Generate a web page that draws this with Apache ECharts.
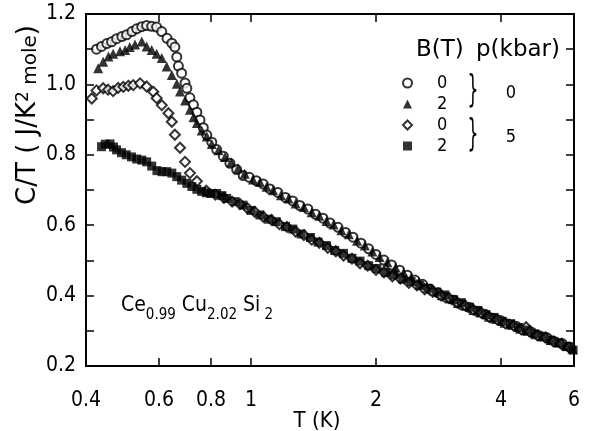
<!DOCTYPE html>
<html><head><meta charset="utf-8">
<script src="https://cdn.jsdelivr.net/npm/echarts@6/dist/echarts.min.js"></script>
<style>html,body{margin:0;padding:0;background:#fff}#c{width:591px;height:431px}</style>
</head><body><div id="c"></div>
<script>
// ---- data: [T (K), C/T (J/K^2 mole)] ----
const circlesB0p0 = [
[0.424,1.100],[0.436,1.108],[0.449,1.116],[0.461,1.121],[0.474,1.130],[0.488,1.136],[0.501,1.141],[0.516,1.150],
[0.530,1.158],[0.545,1.164],[0.560,1.167],[0.576,1.165],[0.592,1.163],[0.609,1.150],[0.627,1.131],[0.644,1.117],
[0.655,1.106],[0.662,1.078],[0.668,1.052],[0.680,1.032],[0.693,1.004],[0.700,0.989],[0.712,0.962],[0.726,0.942],
[0.740,0.921],[0.753,0.899],[0.767,0.877],[0.782,0.856],[0.804,0.836],[0.826,0.815],[0.857,0.796],[0.889,0.776],
[0.923,0.758],[0.957,0.741],[0.99,0.736],[1.03,0.726],[1.07,0.717],[1.11,0.703],[1.16,0.693],[1.21,0.679],
[1.26,0.669],[1.31,0.656],[1.37,0.646],[1.43,0.631],[1.49,0.620],[1.55,0.606],[1.62,0.594],[1.69,0.579],
[1.76,0.566],[1.84,0.549],[1.92,0.533],[2.00,0.517],[2.09,0.501],[2.18,0.487],[2.28,0.472],[2.38,0.458],
[2.48,0.444],[2.59,0.432],[2.70,0.418],[2.82,0.408],[2.95,0.395],[3.08,0.387],[3.22,0.374],[3.36,0.366],
[3.51,0.355],[3.66,0.347],[3.82,0.336],[3.99,0.329],[4.17,0.319],[4.35,0.313],[4.54,0.302],[4.74,0.296],
[4.95,0.286],[5.17,0.280],[5.40,0.269],[5.63,0.263],[5.88,0.253]
];
const trianglesB2p0 = [
[0.428,1.046],[0.440,1.064],[0.453,1.079],[0.465,1.087],[0.483,1.094],[0.497,1.098],[0.510,1.106],[0.525,1.113],
[0.545,1.122],[0.560,1.108],[0.576,1.098],[0.592,1.087],[0.609,1.075],[0.626,1.051],[0.644,1.027],[0.662,1.002],
[0.674,0.980],[0.693,0.954],[0.712,0.928],[0.726,0.907],[0.740,0.890],[0.760,0.869],[0.782,0.852],[0.804,0.831],
[0.834,0.813],[0.865,0.794],[0.895,0.779],[0.93,0.761],[0.965,0.746],[1.01,0.730],[1.05,0.723],[1.09,0.709],
[1.13,0.699],[1.18,0.685],[1.23,0.676],[1.28,0.662],[1.34,0.652],[1.40,0.637],[1.46,0.627],[1.52,0.612],
[1.58,0.602],[1.65,0.586],[1.72,0.574],[1.80,0.556],[1.88,0.542],[1.96,0.525],[2.04,0.510],[2.13,0.495],
[2.23,0.480],[2.33,0.465],[2.43,0.451],[2.54,0.439],[2.65,0.424],[2.76,0.414],[2.88,0.401],[3.01,0.392],
[3.15,0.379],[3.29,0.371],[3.43,0.359],[3.58,0.352],[3.74,0.340],[3.91,0.334],[4.08,0.323],[4.26,0.317],
[4.45,0.306],[4.64,0.300],[4.85,0.290],[5.06,0.284],[5.28,0.274],[5.51,0.267],[5.75,0.257],[5.95,0.250]
];
const diamondsB0p5 = [
[0.413,0.960],[0.424,0.983],[0.440,0.989],[0.452,0.985],[0.465,0.981],[0.478,0.990],[0.492,0.993],[0.506,0.996],
[0.520,0.998],[0.540,1.003],[0.560,0.994],[0.581,0.979],[0.592,0.961],[0.609,0.941],[0.632,0.918],[0.644,0.894],
[0.655,0.857],[0.674,0.820],[0.693,0.780],[0.712,0.748],[0.740,0.725],[0.78,0.698],[0.82,0.687],[0.86,0.678],
[0.90,0.667],[0.94,0.660],[0.98,0.648],[1.02,0.638],[1.07,0.624],[1.12,0.615],[1.17,0.603],[1.22,0.595],
[1.28,0.582],[1.34,0.572],[1.40,0.559],[1.46,0.550],[1.53,0.536],[1.60,0.526],[1.67,0.514],[1.75,0.505],
[1.83,0.492],[1.91,0.485],[2.00,0.473],[2.09,0.466],[2.19,0.455],[2.29,0.448],[2.40,0.436],[2.51,0.429],
[2.62,0.418],[2.74,0.411],[2.87,0.400],[3.00,0.393],[3.14,0.380],[3.28,0.372],[3.43,0.360],[3.59,0.351],
[3.75,0.339],[3.92,0.332],[4.10,0.321],[4.29,0.315],[4.48,0.304],[4.60,0.310],[4.69,0.298],[4.90,0.287],
[5.12,0.281],[5.35,0.270],[5.59,0.263],[5.84,0.253]
];
const squaresB2p5 = [
[0.436,0.823],[0.445,0.830],[0.457,0.831],[0.466,0.822],[0.474,0.814],[0.487,0.806],[0.500,0.800],[0.515,0.794],
[0.530,0.788],[0.545,0.785],[0.560,0.780],[0.576,0.768],[0.593,0.755],[0.610,0.752],[0.626,0.752],[0.644,0.748],
[0.662,0.738],[0.680,0.728],[0.700,0.719],[0.720,0.710],[0.740,0.702],[0.760,0.696],[0.780,0.692],[0.800,0.690],
[0.826,0.690],[0.850,0.684],[0.873,0.676],[0.915,0.667],[0.956,0.657],[1.00,0.642],[1.05,0.629],[1.10,0.617],
[1.15,0.610],[1.21,0.596],[1.26,0.589],[1.32,0.575],[1.39,0.565],[1.45,0.552],[1.52,0.542],[1.59,0.528],
[1.67,0.520],[1.75,0.506],[1.83,0.498],[1.92,0.485],[2.01,0.477],[2.11,0.466],[2.21,0.459],[2.32,0.447],
[2.43,0.440],[2.55,0.429],[2.67,0.421],[2.80,0.410],[2.93,0.402],[3.07,0.389],[3.21,0.380],[3.36,0.367],
[3.52,0.358],[3.68,0.346],[3.85,0.338],[4.03,0.327],[4.22,0.320],[4.41,0.309],[4.62,0.302],[4.83,0.291],
[5.05,0.284],[5.28,0.273],[5.52,0.266],[5.77,0.255],[5.97,0.245]
];
const xTickValues = [0.4, 0.6, 0.8, 1, 2, 4, 6];
const legendB = { B0p0: '0', B2p0: '2', B0p5: '0', B2p5: '2' };
const pressureLabels = ['0', '5'];

const FONT = '"DejaVu Sans Condensed", "DejaVu Sans", sans-serif';
const FONT_W = '"DejaVu Sans", sans-serif';
const chart = echarts.init(document.getElementById('c'));

const xBase = {
  type: 'log', logBase: 10, min: 0.4, max: 6,
  axisLine: { show: true, lineStyle: { color: '#000', width: 2 } },
  axisTick: { show: true, inside: true, length: 8, customValues: xTickValues, lineStyle: { color: '#000', width: 1.5 } },
  minorTick: { show: false }, splitLine: { show: false }
};
const yBase = {
  type: 'value', min: 0.2, max: 1.2, interval: 0.1,
  axisLine: { show: true, lineStyle: { color: '#000', width: 2 } },
  axisTick: { show: true, inside: true, length: 8, lineStyle: { color: '#000', width: 1.5 } },
  splitLine: { show: false }
};

const markerBase = { type: 'scatter', z: 3 };

chart.setOption({
  animation: false,
  backgroundColor: '#fff',
  grid: { left: 86, right: 17, top: 14, bottom: 65, containLabel: false, outerBoundsMode: 'none' },
  xAxis: [
    Object.assign({}, xBase, {
      position: 'bottom',
      axisLabel: { show: true, customValues: xTickValues, margin: 24, color: '#000', fontSize: 21, fontFamily: FONT,
        showMinLabel: true, showMaxLabel: true,
        formatter: v => (v >= 1 ? String(Math.round(v)) : String(Math.round(v * 10) / 10)) },
      name: 'T (K)', nameLocation: 'middle', nameGap: 44, nameMoveOverlap: false,
      nameTextStyle: { color: '#000', fontSize: 22, fontFamily: FONT, padding: [0, 26, 0, 0] }
    }),
    Object.assign({}, xBase, { position: 'top', axisLabel: { show: false } })
  ],
  yAxis: [
    Object.assign({}, yBase, {
      position: 'left',
      axisLabel: { show: true, margin: 10, color: '#000', fontSize: 21, fontFamily: FONT,
        formatter: v => (Math.round(v * 10) % 2 === 0 ? v.toFixed(1) : '') }
    }),
    Object.assign({}, yBase, { position: 'right', axisLabel: { show: false } })
  ],
  legend: {
    orient: 'vertical', left: 397, top: 69, itemWidth: 9, itemHeight: 9, itemGap: 3,
    data: ['B0p0', 'B2p0', 'B0p5', 'B2p5'],
    formatter: n => legendB[n],
    textStyle: { color: '#000', fontSize: 18, fontFamily: FONT, lineHeight: 12, padding: [0, 0, 0, 20] },
    selectedMode: false
  },
  series: [
    Object.assign({}, markerBase, { name: 'B0p0', symbol: 'circle', symbolSize: 9, data: circlesB0p0,
      itemStyle: { color: '#fff', borderColor: '#000', borderWidth: 2 } }),
    Object.assign({}, markerBase, { name: 'B2p0', symbol: 'triangle', symbolSize: 10, data: trianglesB2p0,
      itemStyle: { color: '#000', borderColor: '#000', borderWidth: 0 } }),
    Object.assign({}, markerBase, { name: 'B0p5', symbol: 'diamond', symbolSize: 10, data: diamondsB0p5,
      itemStyle: { color: '#fff', borderColor: '#000', borderWidth: 2 } }),
    Object.assign({}, markerBase, { name: 'B2p5', symbol: 'rect', symbolSize: 9, data: squaresB2p5,
      itemStyle: { color: '#000', borderColor: '#000', borderWidth: 0 } })
  ],
  graphic: [
    { type: 'text', x: 28, y: 115, rotation: Math.PI / 2, z: 10,
      style: { text: 'C/T ( J/K{sup|2}{sm| mole})', textAlign: 'center', textVerticalAlign: 'middle',
        fill: '#000', fontSize: 26, fontFamily: FONT_W,
        rich: { sup: { fontSize: 17, fontFamily: FONT_W, verticalAlign: 'top', lineHeight: 17 },
                sm: { fontSize: 20, fontFamily: FONT_W, verticalAlign: 'bottom', lineHeight: 22 } } } },
    { type: 'text', x: 121, y: 289, z: 10,
      style: { text: '{m|Ce}{s|0.99}{m| Cu}{s|2.02}{m| Si}{s| 2}', fill: '#000', textVerticalAlign: 'top',
        rich: { m: { fontSize: 21, fontFamily: FONT, lineHeight: 34, verticalAlign: 'middle', fill: '#000' },
                s: { fontSize: 15, fontFamily: FONT, lineHeight: 15, verticalAlign: 'bottom', fill: '#000' } } } },
    { type: 'text', x: 416, y: 50, z: 10,
      style: { text: 'B(T)', fill: '#000', fontSize: 23, fontFamily: FONT_W, textVerticalAlign: 'middle' } },
    { type: 'text', x: 476, y: 50, z: 10,
      style: { text: 'p(kbar)', fill: '#000', fontSize: 23, fontFamily: FONT_W, textVerticalAlign: 'middle' } },
    { type: 'text', x: 473, y: 91, scaleY: 2.0, z: 10,
      style: { text: '}', fill: '#000', fontSize: 19, fontFamily: FONT, textAlign: 'center', textVerticalAlign: 'middle' } },
    { type: 'text', x: 473, y: 135, scaleY: 2.0, z: 10,
      style: { text: '}', fill: '#000', fontSize: 19, fontFamily: FONT, textAlign: 'center', textVerticalAlign: 'middle' } },
    { type: 'text', x: 511, y: 93, z: 10,
      style: { text: pressureLabels[0], fill: '#000', fontSize: 18, fontFamily: FONT, textAlign: 'center', textVerticalAlign: 'middle' } },
    { type: 'text', x: 511, y: 137, z: 10,
      style: { text: pressureLabels[1], fill: '#000', fontSize: 18, fontFamily: FONT, textAlign: 'center', textVerticalAlign: 'middle' } }
  ]
});
</script>
</body></html>
